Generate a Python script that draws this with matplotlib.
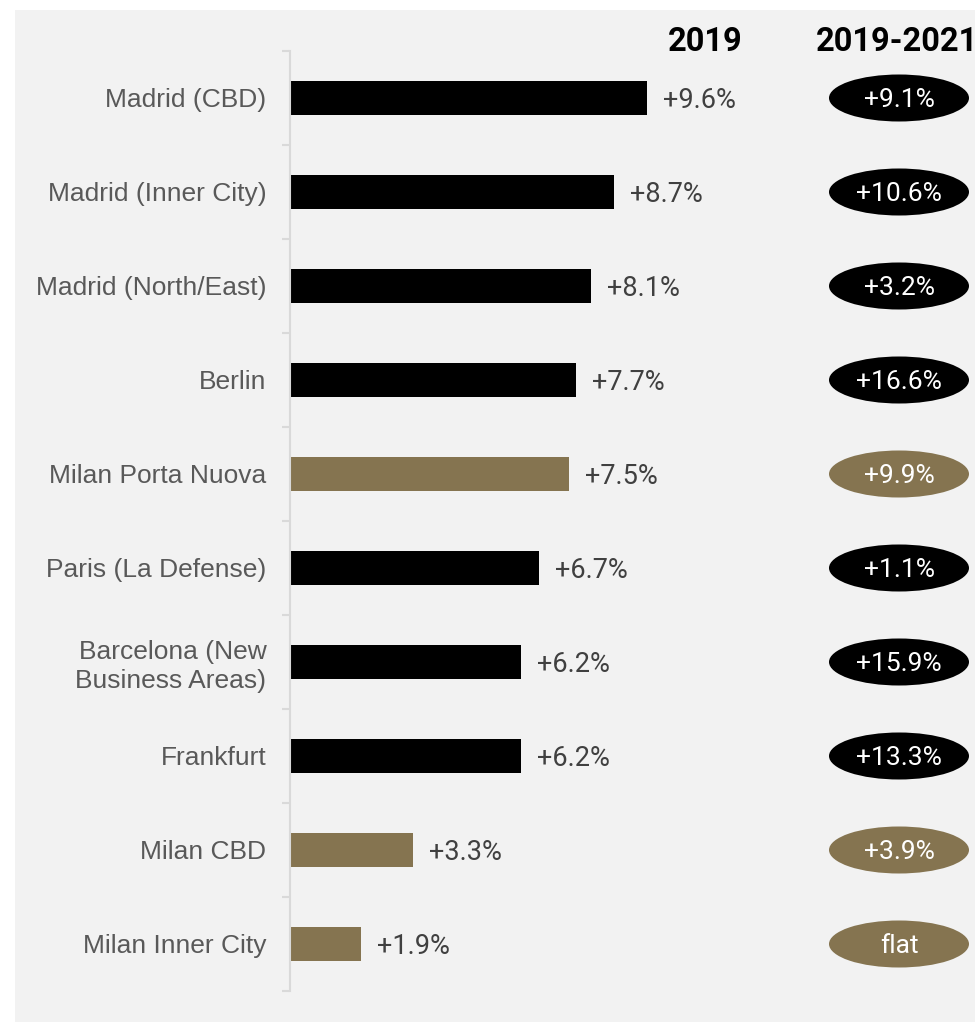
import matplotlib.pyplot as plt
from matplotlib.patches import Ellipse, Rectangle

# data
cities = ['Madrid (CBD)', 'Madrid (Inner City)', 'Madrid (North/East)', 'Berlin',
          'Milan Porta Nuova', 'Paris (La Defense)', 'Barcelona (New\nBusiness Areas)',
          'Frankfurt', 'Milan CBD', 'Milan Inner City']
growth_2019 = [9.6, 8.7, 8.1, 7.7, 7.5, 6.7, 6.2, 6.2, 3.3, 1.9]
growth_2019_2021 = ['+9.1%', '+10.6%', '+3.2%', '+16.6%', '+9.9%', '+1.1%',
                    '+15.9%', '+13.3%', '+3.9%', 'flat']
is_milan = [False, False, False, False, True, False, False, False, True, True]

BLACK = '#000000'
GOLD = '#857450'

fig = plt.figure(figsize=(9.75, 10.25), dpi=100, facecolor='white')
# light grey panel behind everything
fig.patches.append(Rectangle((15 / 975, 1 - 1022 / 1025), 960 / 975, 1012 / 1025,
                             transform=fig.transFigure, facecolor='#f2f2f2',
                             edgecolor='none', zorder=-10))

ax = fig.add_axes([290 / 975, 1 - 991 / 1025, 685 / 975, 940 / 1025])
ax.set_facecolor('none')

colors = [GOLD if m else BLACK for m in is_milan]
y = list(range(len(cities)))
ax.barh(y, growth_2019, height=0.36, color=colors, zorder=2)

ax.set_xlim(0, 685 / 37.19)
ax.set_ylim(len(cities) - 0.5, -0.5)

for yi, v in zip(y, growth_2019):
    ax.annotate(f'+{v:.1f}%', (v, yi), xytext=(16, 0), textcoords='offset pixels',
                va='center_baseline', ha='left', fontsize=19.5, color='#404040',
                family='Roboto')

# ellipses for 2019-2021 column
ex = 899 / 37.19 - 290 / 37.19
for yi, lab, m in zip(y, growth_2019_2021, is_milan):
    ax.add_patch(Ellipse((ex, yi), 140 / 37.19, 0.5, facecolor=GOLD if m else BLACK,
                         edgecolor='none', zorder=2, clip_on=False))
    ax.text(ex, yi, lab, ha='center', va='center_baseline', color='white', fontsize=19,
            family='Roboto', zorder=3)

# headers
fig.text(705 / 975, 1 - 42 / 1025, '2019', ha='center', va='center',
         fontsize=23.5, fontweight='bold', family='Roboto')
fig.text(897 / 975, 1 - 42 / 1025, '2019-2021', ha='center', va='center',
         fontsize=23.5, fontweight='bold', family='Roboto')

# axis styling
for s in ['top', 'right', 'bottom']:
    ax.spines[s].set_visible(False)
ax.spines['left'].set_color('#d9d9d9')
ax.spines['left'].set_linewidth(1.5)
ax.set_xticks([])
ax.set_yticks(y)
ax.set_yticklabels(cities, fontsize=19, color='#595959', family='Liberation Sans',
                   linespacing=1.25)
ax.set_yticks([i - 0.5 for i in range(len(cities) + 1)], minor=True)
ax.tick_params(axis='y', which='major', length=0, pad=17)
ax.tick_params(axis='y', which='minor', length=6, color='#d9d9d9', width=1.5)

fig.savefig('out.png', dpi=100)
